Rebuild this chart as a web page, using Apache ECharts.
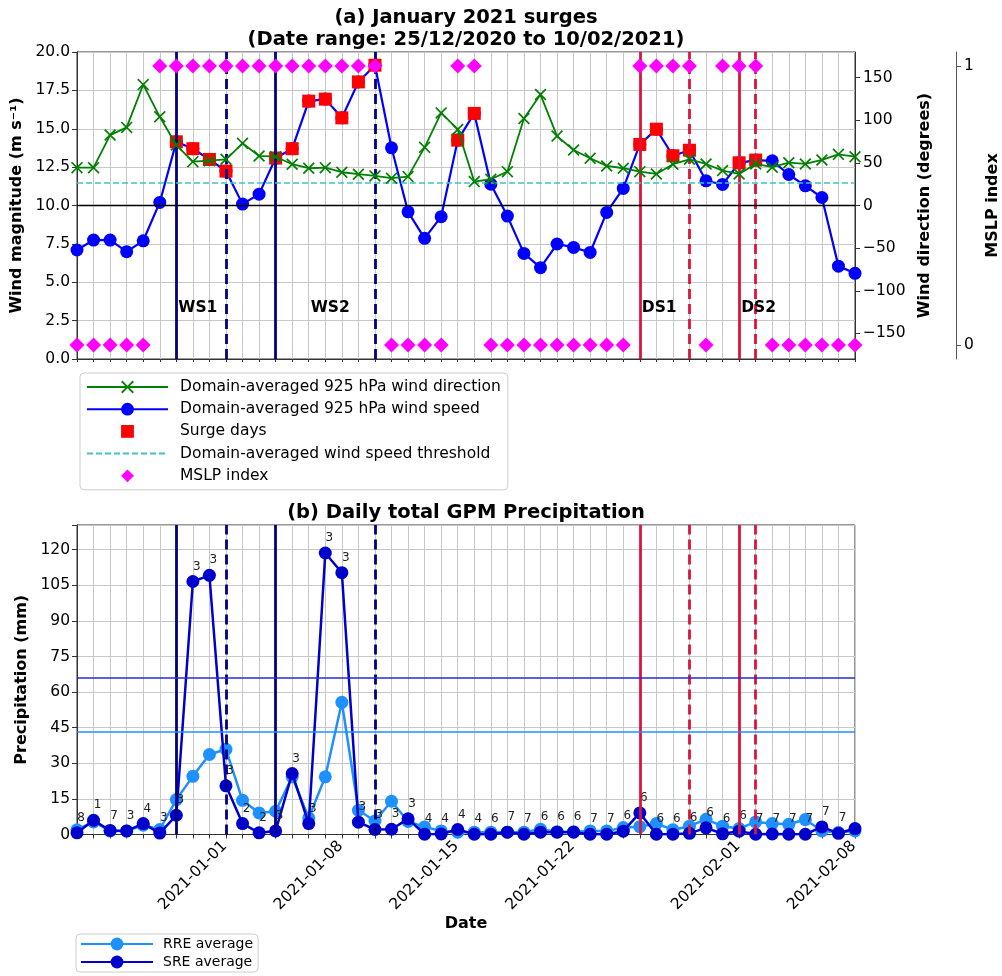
<!DOCTYPE html>
<html><head><meta charset="utf-8">
<script src="https://cdn.jsdelivr.net/npm/echarts@6/dist/echarts.min.js"></script>
<style>html,body{margin:0;padding:0;background:#fff}#c{width:1002px;height:976px}</style>
</head><body><div id="c"></div>
<script>
const dates = ['2020-12-25','2020-12-26','2020-12-27','2020-12-28','2020-12-29','2020-12-30','2020-12-31',
'2021-01-01','2021-01-02','2021-01-03','2021-01-04','2021-01-05','2021-01-06','2021-01-07','2021-01-08',
'2021-01-09','2021-01-10','2021-01-11','2021-01-12','2021-01-13','2021-01-14','2021-01-15','2021-01-16',
'2021-01-17','2021-01-18','2021-01-19','2021-01-20','2021-01-21','2021-01-22','2021-01-23','2021-01-24',
'2021-01-25','2021-01-26','2021-01-27','2021-01-28','2021-01-29','2021-01-30','2021-01-31','2021-02-01',
'2021-02-02','2021-02-03','2021-02-04','2021-02-05','2021-02-06','2021-02-07','2021-02-08','2021-02-09','2021-02-10'];
const tickDates = ['2021-01-01','2021-01-08','2021-01-15','2021-01-22','2021-02-01','2021-02-08'];

const windSpeed = [7.10,7.75,7.75,6.99,7.70,10.20,14.15,13.70,13.00,12.24,10.09,10.74,13.09,13.70,16.80,16.93,15.71,18.05,19.14,13.76,9.59,7.86,9.27,14.26,16.00,11.39,9.31,6.88,5.95,7.49,7.27,6.94,9.55,11.11,13.98,14.97,13.24,13.60,11.61,11.37,12.78,12.96,12.91,12.02,11.28,10.52,6.05,5.58];
const surgeDays = [null,null,null,null,null,null,14.15,13.70,13.00,12.24,null,null,13.09,13.70,16.80,16.93,15.71,18.05,19.14,null,null,null,null,14.26,16.00,null,null,null,null,null,null,null,null,null,13.98,14.97,13.24,13.60,null,null,12.78,12.96,null,null,null,null,null,null];
const windDir = [44.4,44.4,82.6,91.6,141.8,104.0,70.9,51.4,52.6,54.2,72.9,58.1,57.2,48.4,43.7,44.4,39.0,36.7,34.7,32.0,33.9,68.2,108.6,89.2,28.0,30.8,39.7,102.1,130.1,81.4,65.1,55.4,46.4,43.7,39.7,37.0,48.4,54.2,48.7,40.9,37.0,48.7,44.9,50.2,48.7,53.4,60.0,57.2];
const mslpIndex = [0,0,0,0,0,1,1,1,1,1,1,1,1,1,1,1,1,1,1,0,0,0,0,1,1,0,0,0,0,0,0,0,0,0,1,1,1,1,0,1,1,1,0,0,0,0,0,0];
const windThreshold = 11.45;

const rreAvg = [2.0,5.3,1.5,1.5,3.9,2.1,14.7,24.5,33.7,35.9,14.4,9.1,9.8,24.3,7.0,24.3,55.7,10.2,5.7,14.0,5.5,3.2,1.5,1.0,1.0,1.0,1.0,1.0,2.2,1.2,1.2,1.5,1.5,2.9,3.3,4.6,2.0,3.5,6.4,3.5,2.5,5.3,4.6,4.3,6.3,1.5,0.8,1.5];
const sreAvg = [0.7,6.0,1.7,1.5,4.6,0.6,8.1,106.6,109.2,20.5,4.6,0.7,1.5,25.7,4.6,118.6,110.3,5.2,2.1,2.2,6.6,0.1,0.2,2.1,0.1,0.1,1.0,0.1,1.0,1.0,1.0,0.1,0.1,1.4,9.1,0.1,0.1,0.5,2.8,0.3,1.4,0.1,0.2,0.1,0.1,3.2,0.5,2.5];
const regimeLabels = ['8','1','7','3','4','3','3','3','3','3','2','2','3','3','3','3','3','3','3','3','3','4','4','4','4','6','7','7','6','6','6','7','7','6','6','6','6','6','6','6','6','7','7','7','7','7','7',null];
const rreThreshold = 43.1;
const sreThreshold = 66.2;

const dirTicks = [-150,-100,-50,0,50,100,150];
const mslpTicks = [0,1];
const events = [
  {name:'WS1', start:'2020-12-31', end:'2021-01-03', labelAt:'2020-12-31', color:'#000080'},
  {name:'WS2', start:'2021-01-06', end:'2021-01-12', labelAt:'2021-01-08', color:'#000080'},
  {name:'DS1', start:'2021-01-28', end:'2021-01-31', labelAt:'2021-01-28', color:'#dc143c'},
  {name:'DS2', start:'2021-02-03', end:'2021-02-04', labelAt:'2021-02-03', color:'#dc143c'}
];
const eventLabelY = 3.3;

const FONT = 'DejaVu Sans';
const GRIDC = '#c8c8c8';
const SPINE = '#333';
const xSymbol = 'path://M0,1L1,0L5,4L9,0L10,1L6,5L10,9L9,10L5,6L1,10L0,9L4,5Z';

function eventLines() {
  const d = [];
  events.forEach(e => {
    d.push({xAxis: e.start, lineStyle: {color: e.color, width: 2.8, type: 'solid'}});
    d.push({xAxis: e.end, lineStyle: {color: e.color, width: 2.8, type: [10, 5]}});
  });
  return d;
}
const mlBase = {silent: true, symbol: ['none','none'], label: {show: false}, emphasis: {disabled: true}, animation: false};
const minus = v => String(v).replace('-', '\u2212');

const yName = {fontFamily: FONT, fontSize: 16, fontWeight: 'bold', color: '#000'};
const tickLbl = {fontFamily: FONT, fontSize: 15.5, color: '#000'};

const option = {
  animation: false,
  textStyle: {fontFamily: FONT},
  title: [
    {text: '(a) January 2021 surges\n(Date range: 25/12/2020 to 10/02/2021)', left: 466, top: 7, padding: 0, textAlign: 'center',
     textStyle: {fontFamily: FONT, fontSize: 19.5, fontWeight: 'bold', lineHeight: 22, color: '#000'}},
    {text: '(b) Daily total GPM Precipitation', left: 466, top: 502, padding: 0, textAlign: 'center',
     textStyle: {fontFamily: FONT, fontSize: 19.5, fontWeight: 'bold', lineHeight: 22, color: '#000'}}
  ],
  grid: [
    {left: 77, top: 52, width: 778, height: 307, show: true, borderColor: SPINE, borderWidth: 1, containLabel: false, outerBoundsMode: 'none'},
    {left: 77, top: 525, width: 778, height: 309.5, show: true, borderColor: SPINE, borderWidth: 1, containLabel: false, outerBoundsMode: 'none'}
  ],
  legend: [
    {orient: 'vertical', left: 80, top: 373, itemWidth: 81, itemHeight: 16, itemGap: 6.2, padding: [6, 7, 6, 6],
     borderColor: '#cccccc', borderWidth: 1, borderRadius: 4, selectedMode: false,
     textStyle: {fontFamily: FONT, fontSize: 15.5, color: '#000', padding: [0, 0, 0, 7]},
     data: ['Domain-averaged 925 hPa wind direction', 'Domain-averaged 925 hPa wind speed', 'Surge days',
            {name: 'Domain-averaged wind speed threshold', itemStyle: {opacity: 0}}, 'MSLP index']},
    {orient: 'vertical', left: 76, top: 934, itemWidth: 72, itemHeight: 16, itemGap: 4, padding: [3, 5, 3, 4],
     borderColor: '#cccccc', borderWidth: 1, borderRadius: 4, selectedMode: false,
     textStyle: {fontFamily: FONT, fontSize: 14, color: '#000', padding: [0, 0, 0, 5]},
     data: ['RRE average', 'SRE average']}
  ],
  xAxis: [
    {type: 'category', gridIndex: 0, data: dates, boundaryGap: false,
     axisLine: {lineStyle: {color: SPINE}}, axisTick: {show: true, interval: 0, length: 3, lineStyle: {color: SPINE}},
     axisLabel: {show: false}, splitLine: {show: true, interval: 0, lineStyle: {color: GRIDC, width: 1}}},
    {type: 'category', gridIndex: 1, data: dates, boundaryGap: false,
     axisLine: {lineStyle: {color: SPINE}}, axisTick: {show: true, interval: 0, length: 4, lineStyle: {color: SPINE}},
     axisLabel: Object.assign({show: true, interval: (i, v) => tickDates.includes(v), rotate: 45, align: 'center', verticalAlign: 'middle', margin: 41}, tickLbl),
     splitLine: {show: true, interval: 0, lineStyle: {color: GRIDC, width: 1}},
     name: 'Date', nameLocation: 'middle', nameGap: 80, nameTextStyle: yName}
  ],
  yAxis: [
    {type: 'value', gridIndex: 0, min: 0, max: 20, interval: 2.5, position: 'left',
     axisLine: {show: true, lineStyle: {color: SPINE}}, axisTick: {show: true, length: 5, lineStyle: {color: SPINE}},
     axisLabel: Object.assign({formatter: v => v.toFixed(1), margin: 7}, tickLbl),
     splitLine: {show: true, lineStyle: {color: GRIDC, width: 1}},
     name: 'Wind magnitude (m s\u207B\u00B9)', nameLocation: 'middle', nameGap: 39, nameTextStyle: yName},
    {type: 'value', gridIndex: 0, min: -180, max: 180, position: 'right',
     axisLine: {show: true, lineStyle: {color: SPINE}}, axisTick: {show: true, length: 5, customValues: dirTicks, lineStyle: {color: SPINE}},
     axisLabel: Object.assign({customValues: dirTicks, formatter: v => minus(v), margin: 8}, tickLbl),
     splitLine: {show: false},
     name: 'Wind direction (degrees)', nameLocation: 'middle', nameGap: 43, nameTextStyle: yName},
    {type: 'value', gridIndex: 0, min: -0.05, max: 1.05, position: 'right', offset: 101,
     axisLine: {show: true, lineStyle: {color: '#555'}}, axisTick: {show: true, length: 5, customValues: mslpTicks, lineStyle: {color: '#555'}},
     axisLabel: Object.assign({customValues: mslpTicks, margin: 8}, tickLbl),
     splitLine: {show: false},
     name: 'MSLP index', nameLocation: 'middle', nameGap: 9, nameTextStyle: yName},
    {type: 'value', gridIndex: 1, min: 0, max: 130.4, interval: 15, position: 'left',
     axisLine: {show: true, lineStyle: {color: SPINE}}, axisTick: {show: true, length: 5, lineStyle: {color: SPINE}},
     axisLabel: Object.assign({formatter: v => (Math.abs(v % 15) < 1e-6 ? String(v) : ''), margin: 7}, tickLbl),
     splitLine: {show: true, lineStyle: {color: GRIDC, width: 1}},
     name: 'Precipitation (mm)', nameLocation: 'middle', nameGap: 31, nameTextStyle: yName}
  ],
  series: [
    {name: 'events-top', type: 'line', xAxisIndex: 0, yAxisIndex: 0, data: [], z: 2,
     markLine: Object.assign({data: eventLines()}, mlBase)},
    {name: 'Domain-averaged 925 hPa wind speed', type: 'line', xAxisIndex: 0, yAxisIndex: 0, data: windSpeed, z: 3,
     showSymbol: true, showAllSymbol: true,
     symbol: 'circle', symbolSize: 13, color: '#0000ff', itemStyle: {color: '#0000ff'}, lineStyle: {color: '#0000ff', width: 2.2}},
    {name: 'Surge days', type: 'line', xAxisIndex: 0, yAxisIndex: 0, data: surgeDays, z: 4, connectNulls: false,
     showSymbol: true, showAllSymbol: true,
     symbol: 'rect', symbolSize: 13, color: '#ff0000', itemStyle: {color: '#ff0000'}, lineStyle: {width: 0, opacity: 0}},
    {name: 'Domain-averaged 925 hPa wind direction', type: 'line', xAxisIndex: 0, yAxisIndex: 1, data: windDir, z: 5,
     showSymbol: true, showAllSymbol: true,
     symbol: xSymbol, symbolSize: 12, color: '#008000', itemStyle: {color: '#008000'}, lineStyle: {color: '#008000', width: 1.8},
     markLine: Object.assign({data: [{yAxis: 0, lineStyle: {color: '#000', width: 1.3, type: 'solid'}}]}, mlBase)},
    {name: 'Domain-averaged wind speed threshold', type: 'line', xAxisIndex: 0, yAxisIndex: 0, data: [], z: 3,
     symbol: 'none', color: '#40c4c4', itemStyle: {color: '#40c4c4'}, lineStyle: {color: '#40c4c4', width: 1.6, type: [6, 3]},
     markLine: Object.assign({data: [{yAxis: windThreshold, lineStyle: {color: '#40c4c4', width: 1.6, type: [6, 3]}}]}, mlBase)},
    {name: 'MSLP index', type: 'line', xAxisIndex: 0, yAxisIndex: 2, data: mslpIndex, z: 6,
     showSymbol: true, showAllSymbol: true,
     symbol: 'diamond', symbolSize: 15, color: '#ff00ff', itemStyle: {color: '#ff00ff'}, lineStyle: {width: 0, opacity: 0}},
    {name: 'event-labels', type: 'scatter', xAxisIndex: 0, yAxisIndex: 0, z: 7, symbolSize: 0,
     itemStyle: {opacity: 1, color: '#000'},
     data: events.map(e => [e.labelAt, eventLabelY, e.name]),
     label: {show: true, position: 'right', distance: 2, formatter: p => p.value[2], fontFamily: FONT, fontSize: 15.5, fontWeight: 'bold', color: '#000', opacity: 1}},
    {name: 'events-bottom', type: 'line', xAxisIndex: 1, yAxisIndex: 3, data: [], z: 2,
     markLine: Object.assign({data: eventLines()}, mlBase)},
    {name: 'RRE average', type: 'line', xAxisIndex: 1, yAxisIndex: 3, data: rreAvg, z: 3,
     showSymbol: true, showAllSymbol: true,
     symbol: 'circle', symbolSize: 13, color: '#1e90ff', itemStyle: {color: '#1e90ff'}, lineStyle: {color: '#1e90ff', width: 2.5},
     markLine: Object.assign({data: [{yAxis: rreThreshold, lineStyle: {color: '#1e90ff', width: 1.5, type: 'solid'}}]}, mlBase)},
    {name: 'SRE average', type: 'line', xAxisIndex: 1, yAxisIndex: 3, data: sreAvg, z: 4,
     showSymbol: true, showAllSymbol: true,
     symbol: 'circle', symbolSize: 13, color: '#0000cd', itemStyle: {color: '#0000cd'}, lineStyle: {color: '#0000cd', width: 2.5},
     label: {show: true, position: [10.5, -2.5], align: 'center', verticalAlign: 'bottom',
             formatter: p => regimeLabels[p.dataIndex] || '',
             fontFamily: FONT, fontSize: 12, color: '#222'},
     labelLayout: {hideOverlap: false},
     markLine: Object.assign({data: [{yAxis: sreThreshold, lineStyle: {color: '#2a2ad0', width: 1.5, type: 'solid'}}]}, mlBase)}
  ]
};
const chart = echarts.init(document.getElementById('c'), null, {renderer: 'canvas'});
chart.setOption(option);
</script>
</body></html>
